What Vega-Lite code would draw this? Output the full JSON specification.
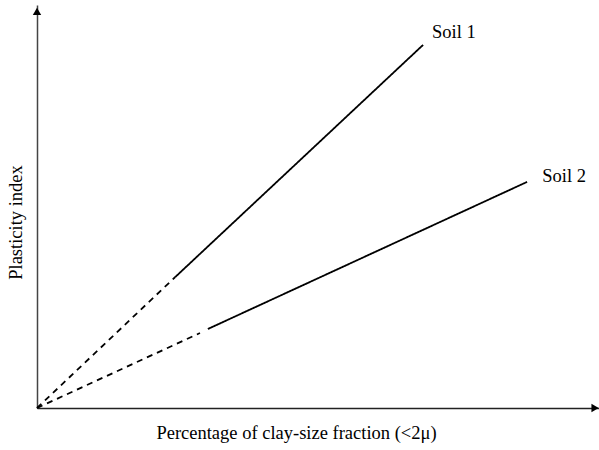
{
  "$schema": "https://vega.github.io/schema/vega-lite/v6.json",
  "autosize": "none",
  "width": 562,
  "height": 403,
  "padding": {"left": 37, "top": 5, "right": 0, "bottom": 42},
  "background": "white",
  "config": {"view": {"stroke": null}, "font": "Liberation Serif"},
  "datasets": {
    "lines": [
      {"soil": "Soil 1", "seg": "1a", "style": "dashed", "x": 0, "y": 0},
      {"soil": "Soil 1", "seg": "1a", "style": "dashed", "x": 24.6, "y": 32.5},
      {"soil": "Soil 1", "seg": "1b", "style": "solid", "x": 24.6, "y": 32.5},
      {"soil": "Soil 1", "seg": "1b", "style": "solid", "x": 68.7, "y": 90.1},
      {"soil": "Soil 2", "seg": "2a", "style": "dashed", "x": 0, "y": 0},
      {"soil": "Soil 2", "seg": "2a", "style": "dashed", "x": 29.0, "y": 18.6},
      {"soil": "Soil 2", "seg": "2b", "style": "solid", "x": 30.4, "y": 19.6},
      {"soil": "Soil 2", "seg": "2b", "style": "solid", "x": 87.2, "y": 56.1}
    ],
    "labels": [
      {"label": "Soil 1", "x": 70.3, "y": 91.8},
      {"label": "Soil 2", "x": 89.9, "y": 56.1}
    ],
    "arrows": [
      {"dir": "right", "x": 99.3, "y": 0},
      {"dir": "up", "x": 0, "y": 98.4}
    ]
  },
  "layer": [
    {
      "data": {"name": "lines"},
      "mark": {"type": "line", "color": "black", "strokeWidth": 1.8},
      "encoding": {
        "x": {
          "field": "x", "type": "quantitative",
          "scale": {"domain": [0, 100], "nice": false, "zero": false},
          "axis": {
            "grid": false, "ticks": false, "labels": false,
            "domainColor": "#222", "domainWidth": 1.5,
            "title": "Percentage of clay-size fraction (<2μ)",
            "titleFont": "Liberation Serif", "titleFontSize": 18.5, "titleFontWeight": "normal",
            "titleColor": "black", "titleX": 259, "titleY": 30, "titleBaseline": "alphabetic"
          }
        },
        "y": {
          "field": "y", "type": "quantitative",
          "scale": {"domain": [0, 100], "nice": false, "zero": false},
          "axis": {
            "grid": false, "ticks": false, "labels": false,
            "domainColor": "#444", "domainWidth": 1.5,
            "title": "Plasticity index",
            "titleFont": "Liberation Serif", "titleFontSize": 18.5, "titleFontWeight": "normal",
            "titleColor": "black", "titleX": -22, "titleY": 217, "titleAngle": -90, "titleBaseline": "middle", "titleAlign": "center"
          }
        },
        "detail": {"field": "seg"},
        "strokeDash": {
          "field": "style", "type": "nominal",
          "scale": {"domain": ["dashed", "solid"], "range": [[6, 5], [1, 0]]},
          "legend": null
        }
      }
    },
    {
      "data": {"name": "labels"},
      "mark": {"type": "text", "align": "left", "baseline": "alphabetic", "font": "Liberation Serif", "fontSize": 18.5, "color": "black"},
      "encoding": {
        "x": {"field": "x", "type": "quantitative"},
        "y": {"field": "y", "type": "quantitative"},
        "text": {"field": "label"}
      }
    },
    {
      "data": {"name": "arrows"},
      "mark": {"type": "point", "filled": true, "color": "black", "opacity": 1, "size": 70},
      "encoding": {
        "x": {"field": "x", "type": "quantitative"},
        "y": {"field": "y", "type": "quantitative"},
        "shape": {
          "field": "dir", "type": "nominal",
          "scale": {"domain": ["right", "up"], "range": ["triangle-right", "triangle-up"]},
          "legend": null
        }
      }
    }
  ]
}
